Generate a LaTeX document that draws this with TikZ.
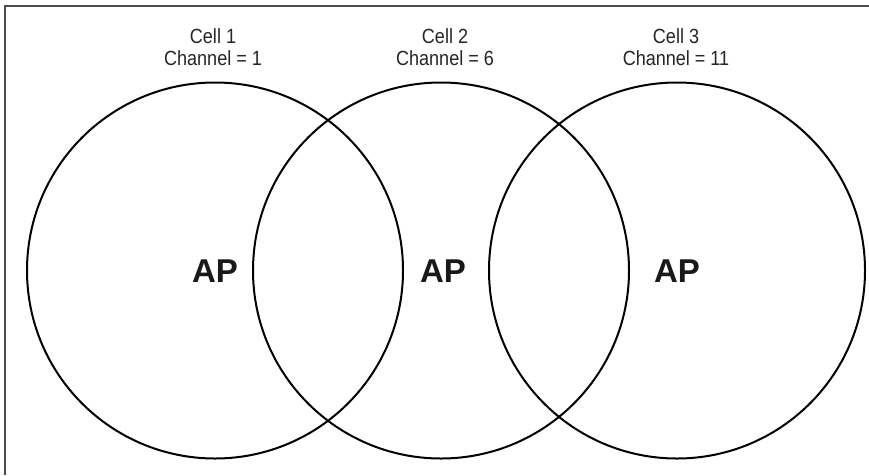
\documentclass[tikz,border=0pt]{standalone}
\usepackage{fontspec}
\setmainfont{Liberation Sans}
\newfontfamily\labelfont[FakeStretch=0.88]{Liberation Sans}
\begin{document}
\begin{tikzpicture}[x=1pt,y=-1pt,
  cell/.style={draw=black,line width=2pt,circle,minimum size=376pt,inner sep=0pt},
  aplabel/.style={font=\fontsize{33}{36}\selectfont\bfseries,text=black!90,inner sep=0pt},
  celllabel/.style={font=\labelfont\fontsize{20.5}{22}\selectfont,text=black!85,align=center,inner sep=0pt}]
\useasboundingbox (0,0) rectangle (869,475);
\fill[white] (0,0) rectangle (869,475);
\draw[black!70,line width=1.6pt] (5,475) -- (5,6) -- (869,6);
\node[cell] (c1) at (215,270.5) {};
\node[cell] (c2) at (441,270.5) {};
\node[cell] (c3) at (677,270.5) {};
\node[aplabel] (ap1) at (215,271) {AP};
\node[aplabel] (ap2) at (443,271) {AP};
\node[aplabel] (ap3) at (677,271) {AP};
\node[celllabel,anchor=base] (t1) at (213,65) {Cell 1\\Channel = 1};
\node[celllabel,anchor=base] (t2) at (445,65) {Cell 2\\Channel = 6};
\node[celllabel,anchor=base] (t3) at (676,65) {Cell 3\\Channel = 11};
\end{tikzpicture}
\end{document}
